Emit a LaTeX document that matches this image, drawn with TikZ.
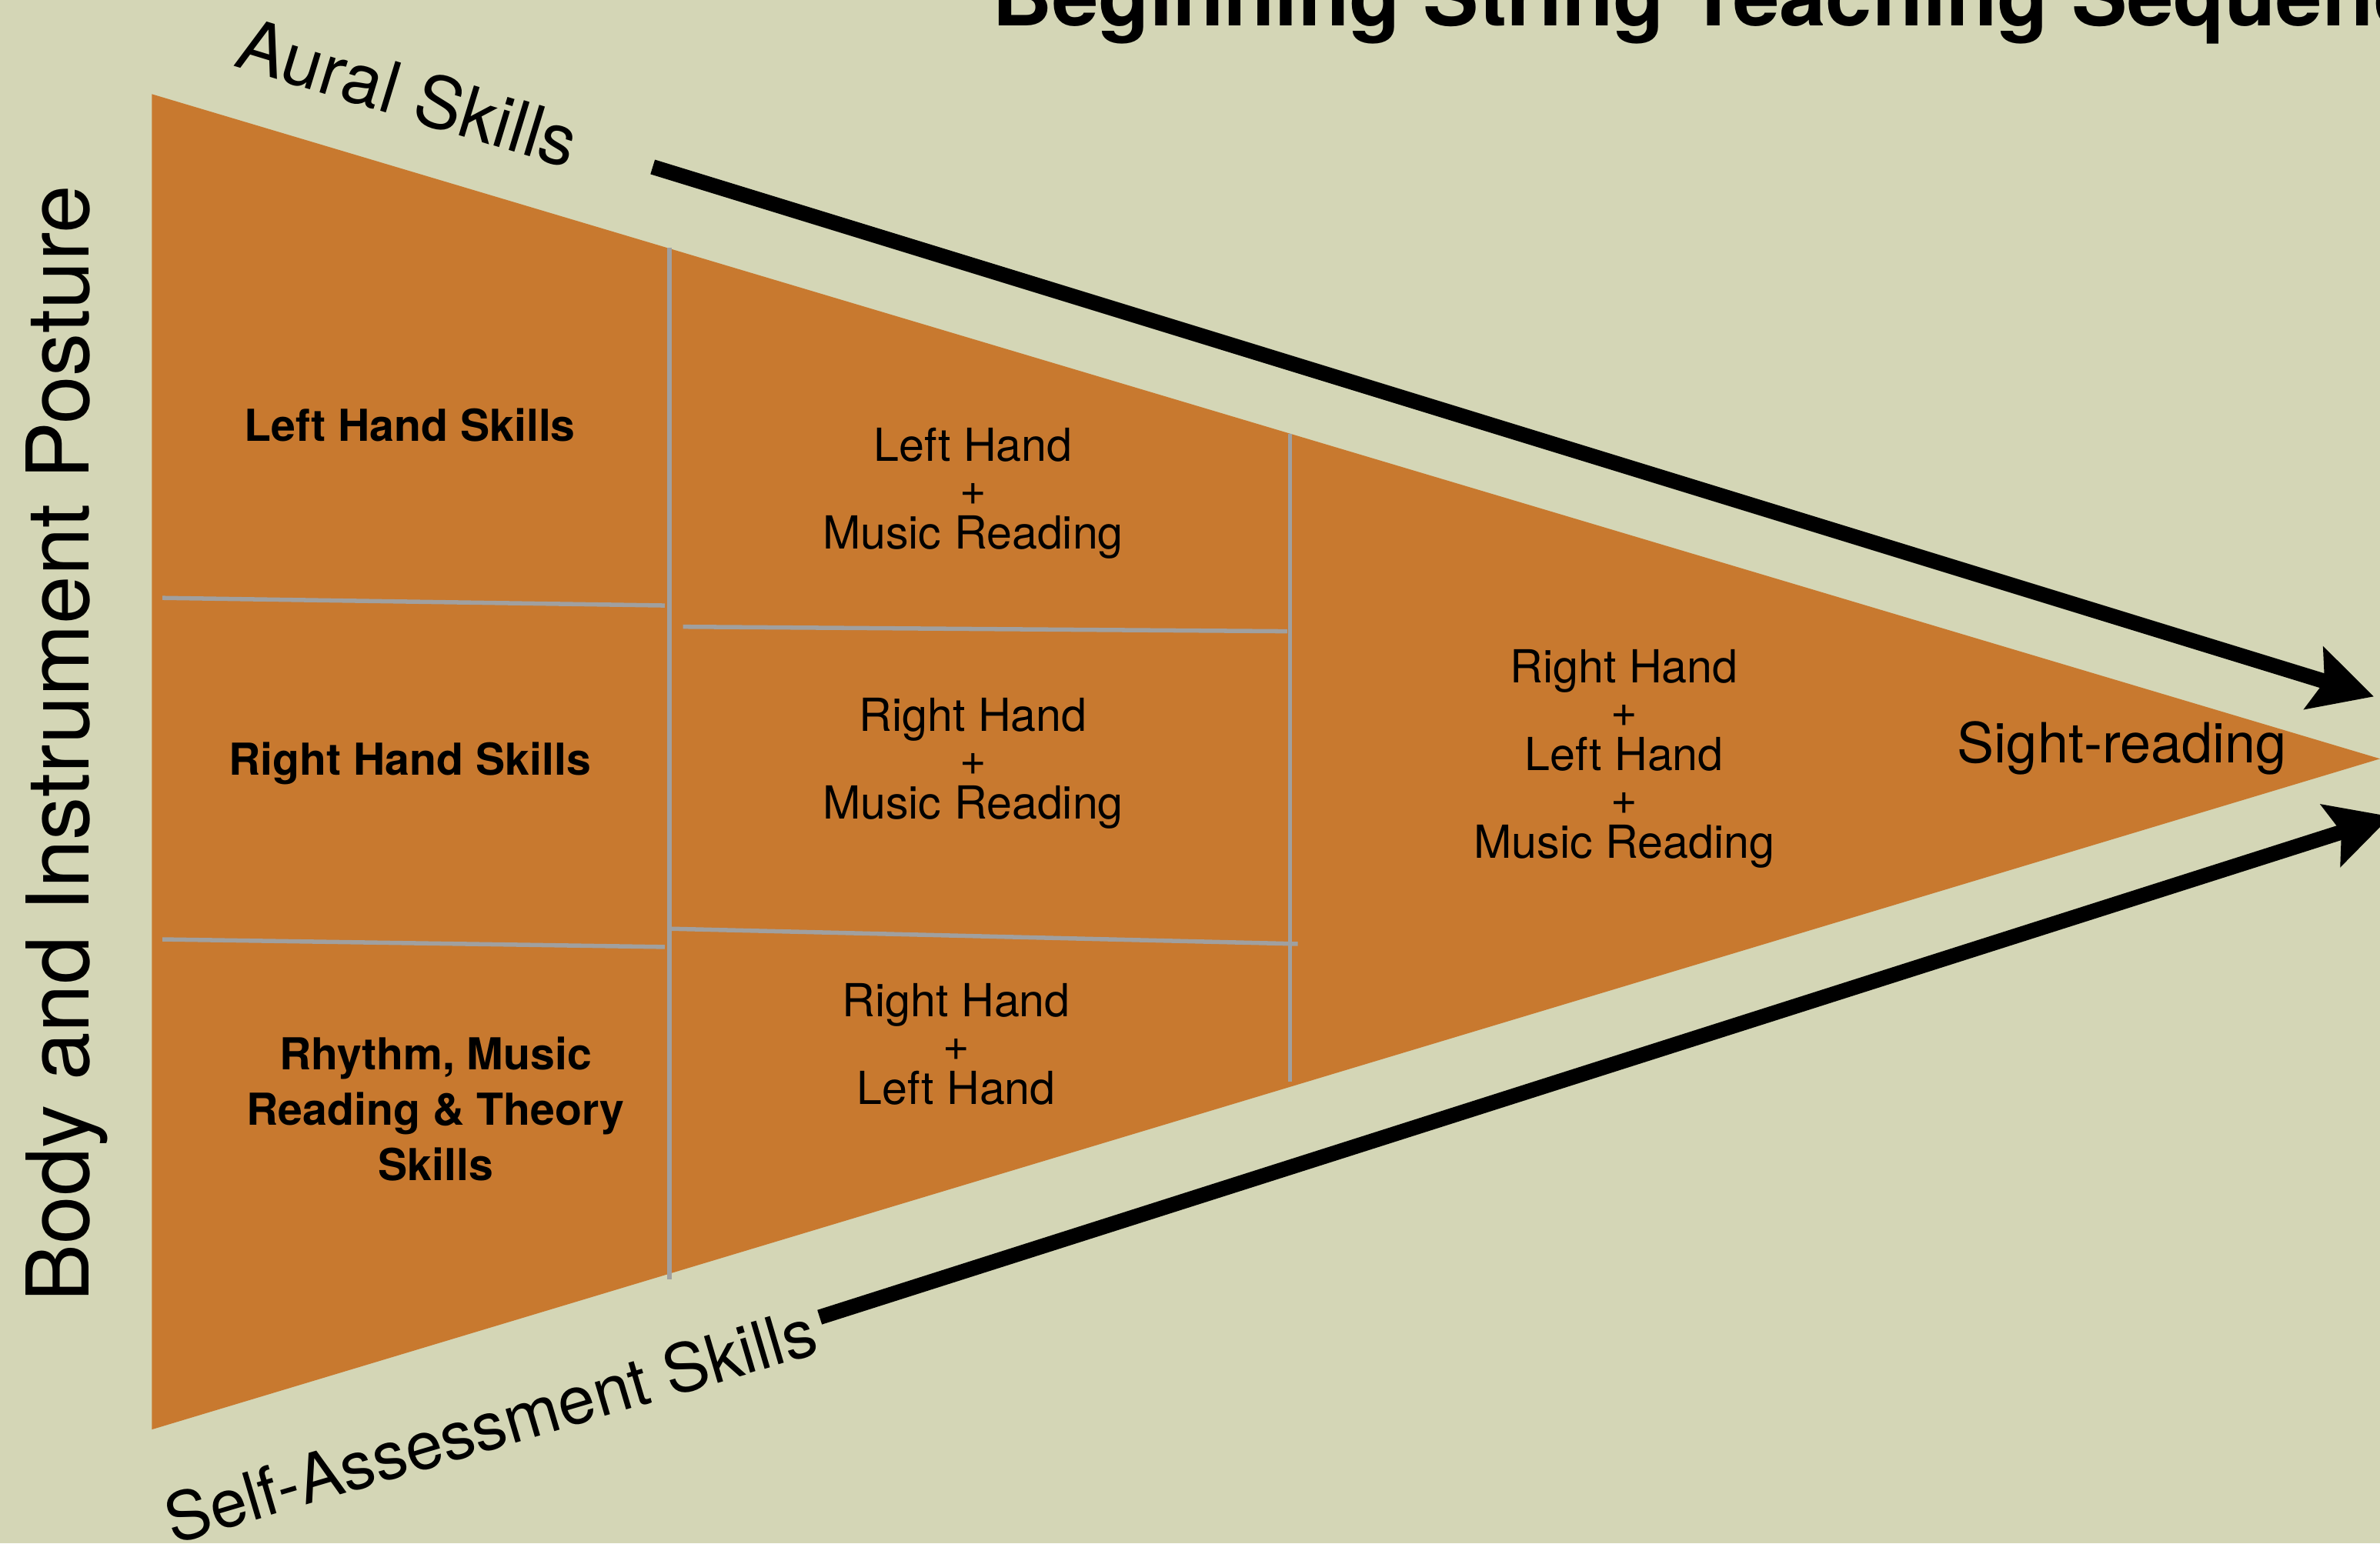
\documentclass[tikz,border=0pt]{standalone}
\usepackage{fontspec}
\setmainfont{TeX Gyre Heros}
\usetikzlibrary{arrows.meta}
\definecolor{paper}{RGB}{212,214,182}
\definecolor{wedge}{RGB}{200,121,47}
\definecolor{divider}{RGB}{160,160,160}

\begin{document}
\begin{tikzpicture}[x=1pt,y=-1pt,
    skill/.style = {align=center, font=\fontsize{29}{36.5}\selectfont\bfseries},
    combo/.style = {align=center, font=\fontsize{30}{29}\selectfont},
    split/.style = {divider, line width=2.8pt},
    flow/.style = {line width=10pt, -{Stealth[length=41pt,width=42pt,inset=7pt]}}]
				\clip (0,0) rectangle (1568,1017);
				\fill[paper] (0,0) rectangle (1568,1017);
				\coordinate (T) at (100,62);
				\coordinate (B) at (100,942);
				\coordinate (P) at (1568,500);
				\fill[wedge] (T) -- (P) -- (B) -- cycle;
				\draw [split] (441,163) -- (441,843);
				\draw [split] (107,394) -- (438,399);
				\draw [split] (107,619) -- (438,624);
				\draw [split] (850,286) -- (850,713);
				\draw [split] (450,413) -- (848,416);
				\draw [split] (442,612) -- (855,622);
				\node[anchor=base west, font=\fontsize{55}{55}\selectfont\bfseries] (title) at (650,17) {Beginning String Teaching Sequence};
				\node[rotate=-17, font=\fontsize{47}{47}\selectfont] (aural) at (269,61) {Aural Skills};
				\node[rotate=16.5, font=\fontsize{44}{44}\selectfont] (self) at (323,939) {Self-Assessment Skills};
				\node[rotate=90, font=\fontsize{57}{57}\selectfont] (body) at (44,490) {Body and Instrument Posture};
				\begin{scope}[every node/.style={inner sep=0pt}]
					\node[skill] (LH) at (270,280) {Left Hand Skills};
					\node[skill] (RH) at (270,503) {Right Hand Skills};
					\node[skill] (RT) at (287,731) {Rhythm, Music\\Reading \& Theory\\Skills};
					\node[combo] (LHM) at (641,325) {Left Hand\\+\\Music Reading};
					\node[combo] (RHM) at (641,503) {Right Hand\\+\\Music Reading};
					\node[combo] (RHLH) at (630,688) {Right Hand\\+\\Left Hand};
					\node[combo] (ALL) at (1070,500) {Right Hand\\+\\Left Hand\\+\\Music Reading};
					\node[font=\fontsize{36.5}{36.5}\selectfont] (SR) at (1398,493) {Sight-reading};
				\end{scope}
				\coordinate (a1) at (430,110);
				\coordinate (a2) at (1564,459);
				\coordinate (b1) at (540,868);
				\coordinate (b2) at (1575,538);
				\draw [flow] (a1) -- (a2);
				\draw [flow] (b1) -- (b2);
			\end{tikzpicture}
\end{document}
